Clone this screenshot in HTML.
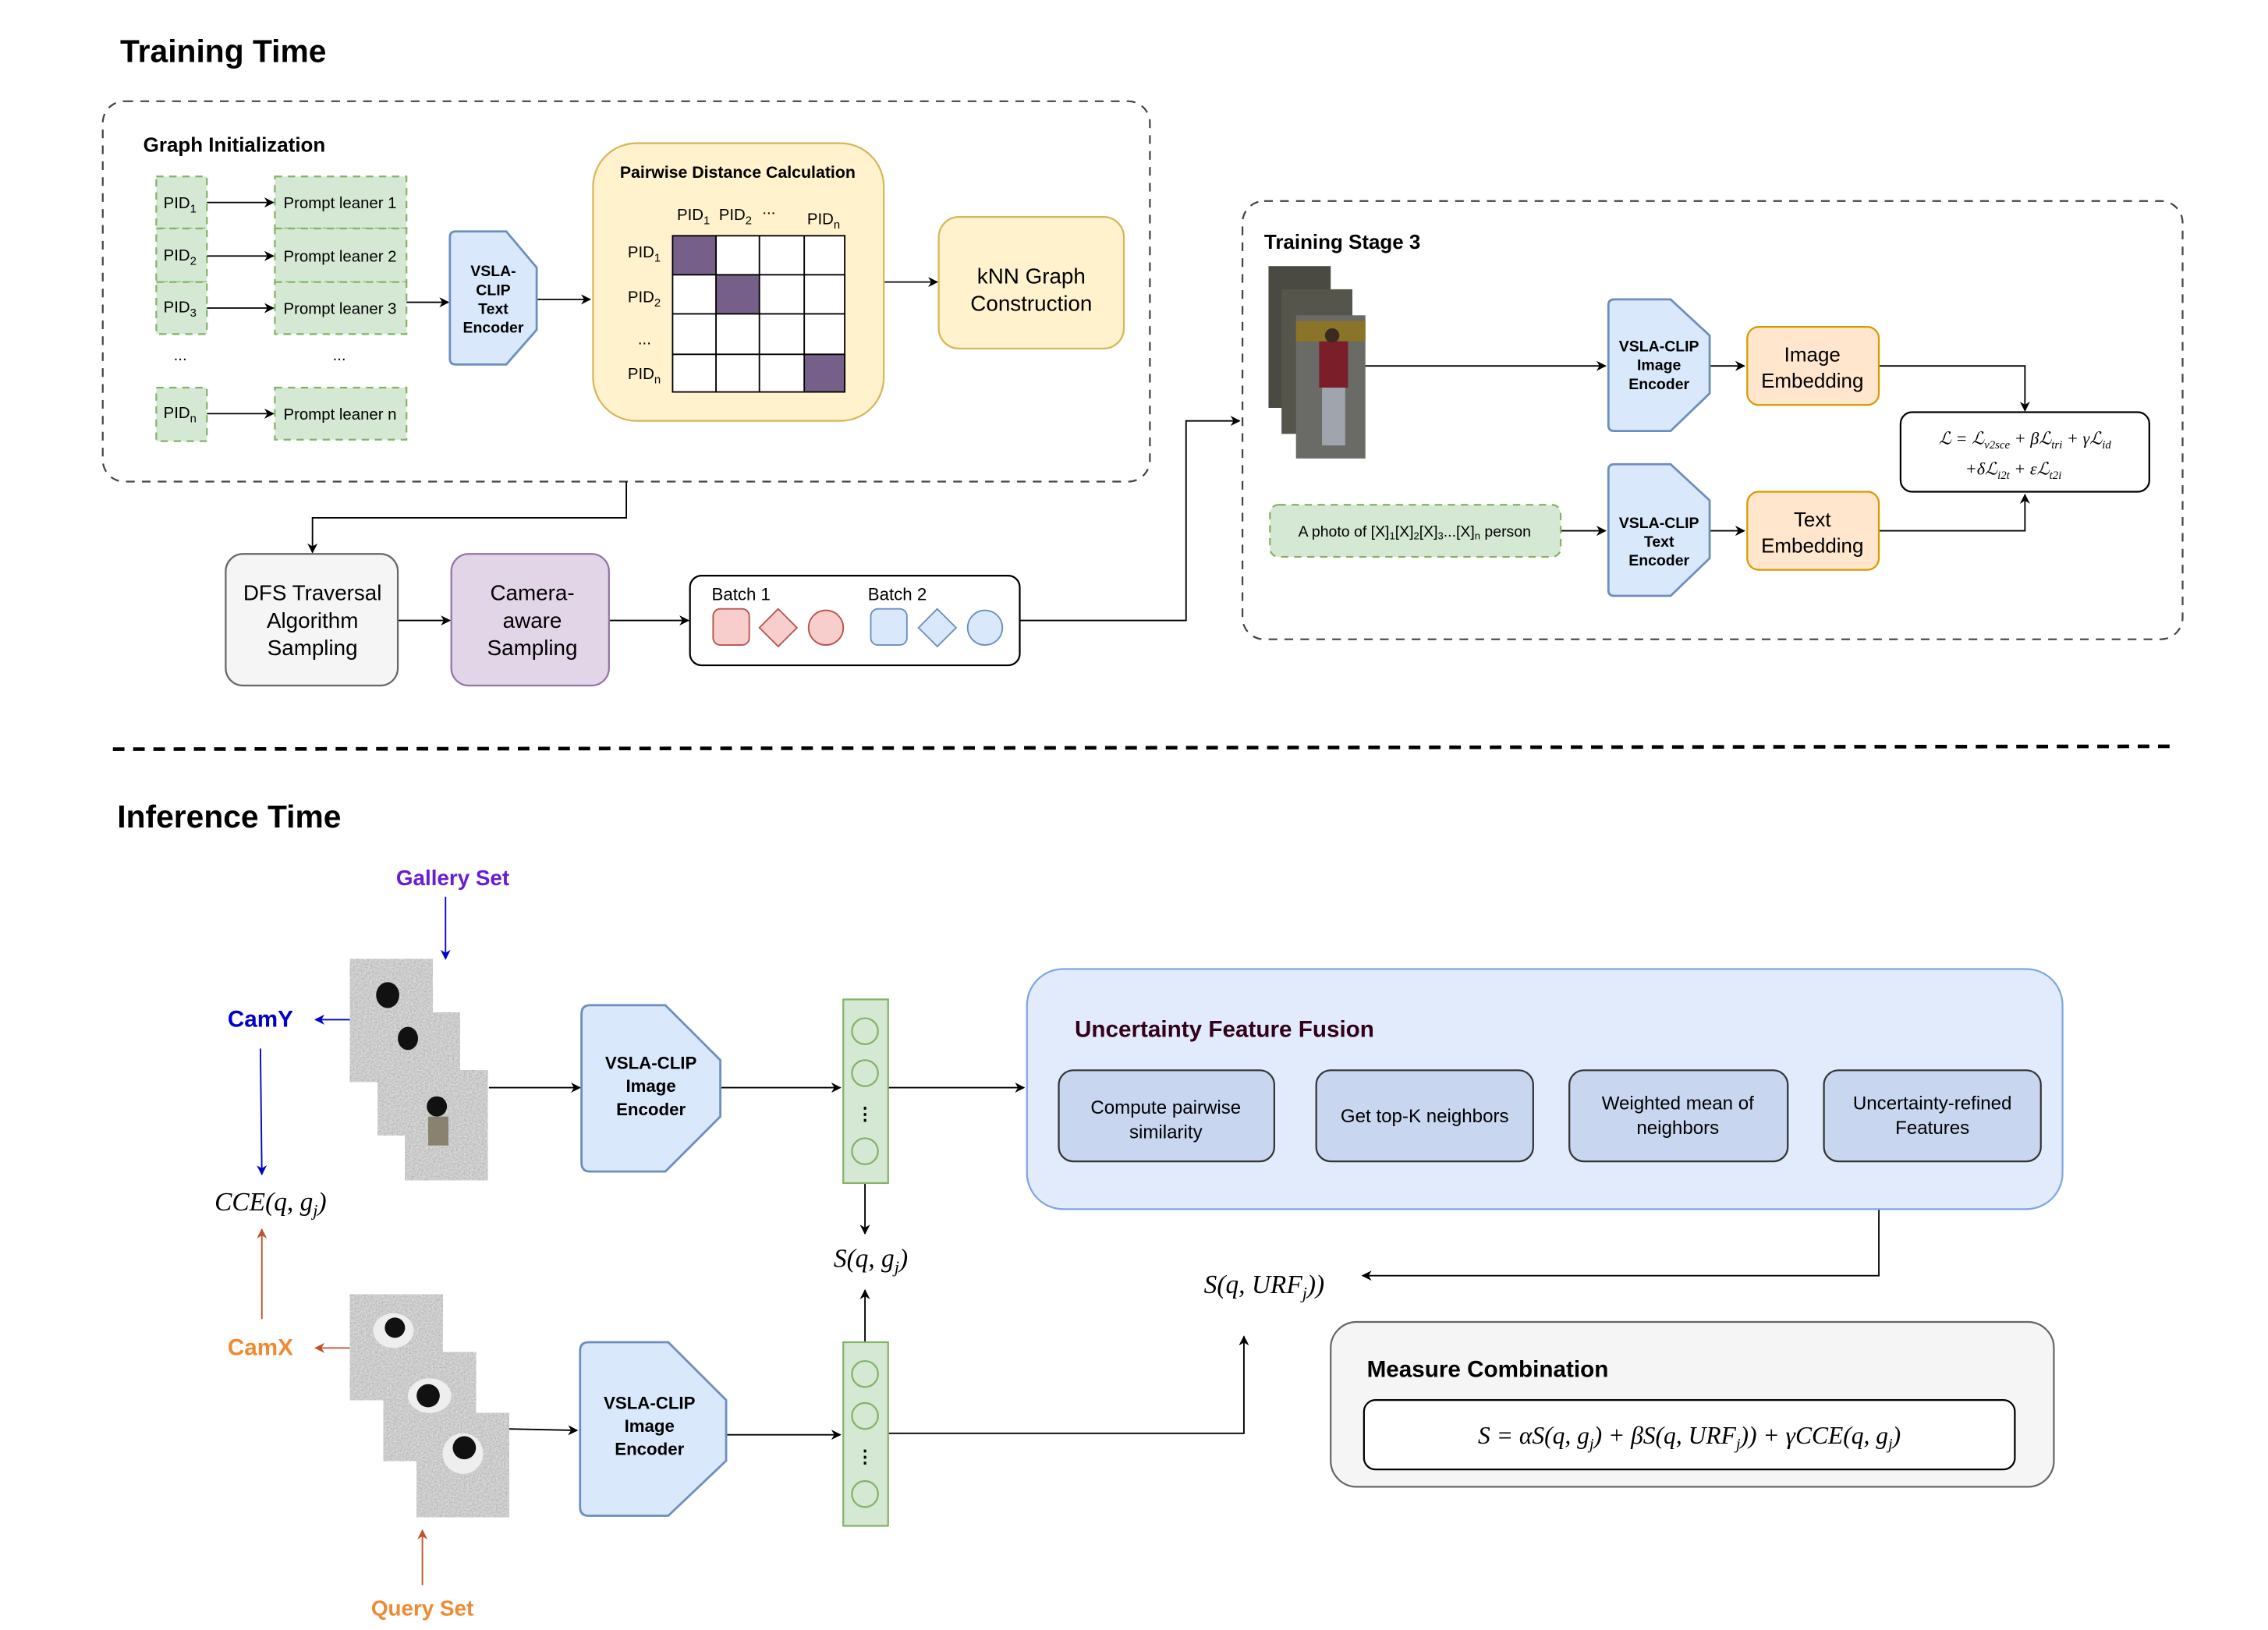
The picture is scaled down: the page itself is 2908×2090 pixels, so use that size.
<!DOCTYPE html>
<html><head><meta charset="utf-8"><style>
html,body{margin:0;padding:0;background:#fff}
svg{display:block}
text{font-family:"Liberation Sans",sans-serif}
.m{font-family:"Liberation Serif",serif;font-style:italic}
.b{font-weight:bold}
</style></head><body>
<svg width="2908" height="2090" viewBox="0 0 1568 1127" xmlns="http://www.w3.org/2000/svg">
<defs>
<marker id="a" viewBox="0 0 10 10" refX="9" refY="5" markerWidth="7" markerHeight="7" orient="auto"><path d="M0,0 L10,5 L0,10 L3,5 Z" fill="#000"/></marker>
<marker id="ab" viewBox="0 0 10 10" refX="9" refY="5" markerWidth="7" markerHeight="7" orient="auto"><path d="M0,0 L10,5 L0,10 L3,5 Z" fill="#0000cc"/></marker>
<marker id="ar" viewBox="0 0 10 10" refX="9" refY="5" markerWidth="7" markerHeight="7" orient="auto"><path d="M0,0 L10,5 L0,10 L3,5 Z" fill="#c0502a"/></marker>
<filter id="n" x="0" y="0" width="100%" height="100%"><feTurbulence type="fractalNoise" baseFrequency="0.9" numOctaves="2" result="t"/><feColorMatrix type="saturate" values="0"/><feComponentTransfer><feFuncR type="linear" slope="0.6" intercept="0.3"/><feFuncG type="linear" slope="0.6" intercept="0.3"/><feFuncB type="linear" slope="0.6" intercept="0.3"/><feFuncA type="linear" slope="0" intercept="1"/></feComponentTransfer></filter>
</defs>

<!-- Training -->
<text x="83" y="43" class="b" font-size="22">Training Time</text>
<rect x="71" y="70" width="724" height="263" rx="15" fill="none" stroke="#444" stroke-dasharray="6 5" stroke-width="1.2"/>
<text x="99" y="105" class="b" font-size="14">Graph Initialization</text>

<g fill="#d5e8d4" stroke="#82b366" stroke-dasharray="5 4" stroke-width="1.2">
<rect x="108" y="122" width="35" height="36"/><rect x="108" y="158" width="35" height="37"/><rect x="108" y="195" width="35" height="36"/><rect x="108" y="268" width="35" height="37"/>
<rect x="190" y="122" width="91" height="36"/><rect x="190" y="158" width="91" height="37"/><rect x="190" y="195" width="91" height="36"/><rect x="190" y="268" width="91" height="36"/>
</g>
<g font-size="11">
<text x="113" y="144">PID<tspan font-size="8" dy="3">1</tspan></text>
<text x="113" y="180">PID<tspan font-size="8" dy="3">2</tspan></text>
<text x="113" y="216">PID<tspan font-size="8" dy="3">3</tspan></text>
<text x="113" y="289">PID<tspan font-size="8" dy="3">n</tspan></text>
<text x="196" y="144">Prompt leaner 1</text>
<text x="196" y="181">Prompt leaner 2</text>
<text x="196" y="217">Prompt leaner 3</text>
<text x="196" y="290">Prompt leaner n</text>
<text x="120" y="249">...</text><text x="230" y="249">...</text>
</g>
<g stroke="#000" stroke-width="1" marker-end="url(#a)">
<line x1="143" y1="140" x2="189" y2="140"/><line x1="143" y1="177" x2="189" y2="177"/><line x1="143" y1="213" x2="189" y2="213"/><line x1="143" y1="286" x2="189" y2="286"/>
<line x1="281" y1="209" x2="310" y2="209"/><line x1="371" y1="207" x2="408" y2="207"/>
<line x1="611" y1="195" x2="648" y2="195"/>
<polyline points="433,333 433,358 216,358 216,382" fill="none"/>
<line x1="275" y1="429" x2="311" y2="429"/><line x1="421" y1="429" x2="476" y2="429"/>
<polyline points="705,429 820,429 820,291 857,291" fill="none"/>
</g>
<path d="M311,164 q0,-4 4,-4 L350,160 L371,185 L371,228 L350,252 L315,252 q-4,0 -4,-4 Z" fill="#dae8fc" stroke="#6c8ebf" stroke-width="1.5"/>
<g class="b" font-size="10.5" text-anchor="middle"><text x="341" y="191">VSLA-</text><text x="341" y="204">CLIP</text><text x="341" y="217">Text</text><text x="341" y="230">Encoder</text></g>

<rect x="410" y="99" width="201" height="192" rx="30" fill="#fff2cc" stroke="#d6b656" stroke-width="1.2"/>
<text x="510" y="123" class="b" font-size="11.5" text-anchor="middle">Pairwise Distance Calculation</text>
<rect x="465" y="163" width="119" height="108" fill="#fff"/>
<g fill="#76608a"><rect x="465" y="163" width="30" height="27"/><rect x="495" y="190" width="30" height="27"/><rect x="556" y="245" width="28" height="26"/></g>
<g stroke="#000" stroke-width="1" fill="none">
<rect x="465" y="163" width="119" height="108"/>
<line x1="495" y1="163" x2="495" y2="271"/><line x1="525" y1="163" x2="525" y2="271"/><line x1="556" y1="163" x2="556" y2="271"/>
<line x1="465" y1="190" x2="584" y2="190"/><line x1="465" y1="217" x2="584" y2="217"/><line x1="465" y1="245" x2="584" y2="245"/>
</g>
<g font-size="11">
<text x="468" y="152">PID<tspan font-size="8" dy="3">1</tspan></text>
<text x="497" y="152">PID<tspan font-size="8" dy="3">2</tspan></text>
<text x="527" y="148">...</text>
<text x="558" y="155">PID<tspan font-size="8" dy="3">n</tspan></text>
<text x="434" y="178">PID<tspan font-size="8" dy="3">1</tspan></text>
<text x="434" y="209">PID<tspan font-size="8" dy="3">2</tspan></text>
<text x="441" y="238">...</text>
<text x="434" y="262">PID<tspan font-size="8" dy="3">n</tspan></text>
</g>
<rect x="649" y="150" width="128" height="91" rx="14" fill="#fff2cc" stroke="#d6b656" stroke-width="1.2"/>
<g font-size="15" text-anchor="middle"><text x="713" y="196">kNN Graph</text><text x="713" y="215">Construction</text></g>

<rect x="156" y="383" width="119" height="91" rx="12" fill="#f5f5f5" stroke="#666" stroke-width="1.2"/>
<g font-size="15" text-anchor="middle"><text x="216" y="415">DFS Traversal</text><text x="216" y="434">Algorithm</text><text x="216" y="453">Sampling</text></g>
<rect x="312" y="383" width="109" height="91" rx="12" fill="#e1d5e7" stroke="#9673a6" stroke-width="1.2"/>
<g font-size="15" text-anchor="middle"><text x="368" y="415">Camera-</text><text x="368" y="434">aware</text><text x="368" y="453">Sampling</text></g>
<rect x="477" y="398" width="228" height="62" rx="8" fill="#fff" stroke="#000" stroke-width="1.2"/>
<text x="492" y="415" font-size="12">Batch 1</text><text x="600" y="415" font-size="12">Batch 2</text>
<g fill="#f8cecc" stroke="#b85450"><rect x="493" y="421" width="25" height="25" rx="5"/><path d="M538,421 L551,434 L538,447 L525,434 Z"/><circle cx="571" cy="434" r="12"/></g>
<g fill="#dae8fc" stroke="#6c8ebf"><rect x="602" y="421" width="25" height="25" rx="5"/><path d="M648,421 L661,434 L648,447 L635,434 Z"/><circle cx="681" cy="434" r="12"/></g>

<!-- Stage 3 -->
<rect x="859" y="139" width="650" height="303" rx="15" fill="none" stroke="#444" stroke-dasharray="6 5" stroke-width="1.2"/>
<text x="874" y="172" class="b" font-size="14">Training Stage 3</text>
<rect x="877" y="184" width="43" height="98" fill="#4a4a42"/>
<rect x="886" y="200" width="49" height="100" fill="#55554c"/>
<rect x="896" y="218" width="48" height="99" fill="#6a6a66"/>
<rect x="896" y="222" width="48" height="14" fill="#8a7428"/>
<rect x="912" y="236" width="20" height="32" fill="#7a1f2a"/>
<circle cx="921" cy="232" r="5" fill="#3a2a20"/>
<rect x="914" y="268" width="16" height="40" fill="#a0a4ac"/>
<g stroke="#000" stroke-width="1" marker-end="url(#a)" fill="none">
<line x1="944" y1="253" x2="1110" y2="253"/><line x1="1182" y1="253" x2="1206" y2="253"/>
<polyline points="1299,253 1400,253 1400,284"/>
<line x1="1079" y1="367" x2="1110" y2="367"/><line x1="1182" y1="367" x2="1206" y2="367"/>
<polyline points="1299,367 1400,367 1400,342"/>
</g>
<path d="M1112,211 q0,-4 4,-4 L1155,207 L1182,232 L1182,272 L1155,298 L1116,298 q-4,0 -4,-4 Z" fill="#dae8fc" stroke="#6c8ebf" stroke-width="1.5"/>
<g class="b" font-size="10.5" text-anchor="middle"><text x="1147" y="243">VSLA-CLIP</text><text x="1147" y="256">Image</text><text x="1147" y="269">Encoder</text></g>
<path d="M1112,325 q0,-4 4,-4 L1155,321 L1182,346 L1182,386 L1155,412 L1116,412 q-4,0 -4,-4 Z" fill="#dae8fc" stroke="#6c8ebf" stroke-width="1.5"/>
<g class="b" font-size="10.5" text-anchor="middle"><text x="1147" y="365">VSLA-CLIP</text><text x="1147" y="378">Text</text><text x="1147" y="391">Encoder</text></g>
<rect x="1208" y="226" width="91" height="54" rx="8" fill="#ffe6cc" stroke="#d79b00" stroke-width="1.2"/>
<g font-size="14" text-anchor="middle"><text x="1253" y="250">Image</text><text x="1253" y="268">Embedding</text></g>
<rect x="1208" y="340" width="91" height="54" rx="8" fill="#ffe6cc" stroke="#d79b00" stroke-width="1.2"/>
<g font-size="14" text-anchor="middle"><text x="1253" y="364">Text</text><text x="1253" y="382">Embedding</text></g>
<rect x="1314" y="285" width="172" height="55" rx="8" fill="#fff" stroke="#000" stroke-width="1.2"/>
<text x="1400" y="307" class="m" font-size="12" text-anchor="middle">ℒ = ℒ<tspan font-size="8" dy="3">v2sce</tspan><tspan dy="-3"> + βℒ</tspan><tspan font-size="8" dy="3">tri</tspan><tspan dy="-3"> + γℒ</tspan><tspan font-size="8" dy="3">id</tspan></text>
<text x="1392" y="328" class="m" font-size="12" text-anchor="middle">+δℒ<tspan font-size="8" dy="3">i2t</tspan><tspan dy="-3"> + εℒ</tspan><tspan font-size="8" dy="3">t2i</tspan></text>
<rect x="878" y="349" width="201" height="36" rx="6" fill="#d5e8d4" stroke="#82b366" stroke-dasharray="5 4" stroke-width="1.2"/>
<text x="978" y="371" font-size="10.5" text-anchor="middle">A photo of [X]<tspan font-size="7" dy="2">1</tspan><tspan dy="-2">[X]</tspan><tspan font-size="7" dy="2">2</tspan><tspan dy="-2">[X]</tspan><tspan font-size="7" dy="2">3</tspan><tspan dy="-2">...[X]</tspan><tspan font-size="7" dy="2">n</tspan><tspan dy="-2"> person</tspan></text>

<line x1="78" y1="518" x2="1500" y2="516" stroke="#000" stroke-width="2.5" stroke-dasharray="8 6"/>

<!-- Inference -->
<text x="81" y="572" class="b" font-size="22">Inference Time</text>
<text x="313" y="612" class="b" font-size="15" fill="#6a1bd6" text-anchor="middle">Gallery Set</text>
<g stroke="#0000cc" stroke-width="1" marker-end="url(#ab)" fill="none">
<line x1="308" y1="620" x2="308" y2="663"/><line x1="242" y1="705" x2="218" y2="705"/><line x1="180" y1="725" x2="181" y2="812"/>
</g>
<g filter="url(#n)"><rect x="242" y="663" width="57" height="85"/></g>
<g filter="url(#n)"><rect x="261" y="700" width="57" height="85"/></g>
<g filter="url(#n)"><rect x="280" y="740" width="57" height="76"/></g>
<ellipse cx="268" cy="688" rx="8" ry="9" fill="#111"/><ellipse cx="282" cy="718" rx="7" ry="8" fill="#111"/>
<ellipse cx="302" cy="765" rx="7" ry="7" fill="#111"/><rect x="296" y="772" width="14" height="20" fill="#8a8270"/>
<text x="180" y="710" font-family="Liberation Mono,monospace" class="b" font-size="16" fill="#0000cc" text-anchor="middle">CamY</text>
<text x="187" y="837" class="m" font-size="18" text-anchor="middle">CCE(q, g<tspan font-size="12" dy="4">j</tspan><tspan dy="-4">)</tspan></text>
<g stroke="#c0502a" stroke-width="1" marker-end="url(#ar)" fill="none">
<line x1="181" y1="912" x2="181" y2="850"/><line x1="242" y1="932" x2="218" y2="932"/><line x1="292" y1="1096" x2="292" y2="1058"/>
</g>
<text x="180" y="937" font-family="Liberation Mono,monospace" class="b" font-size="16" fill="#f08a30" text-anchor="middle">CamX</text>
<g filter="url(#n)"><rect x="242" y="895" width="64" height="73"/></g>
<g filter="url(#n)"><rect x="265" y="935" width="64" height="75"/></g>
<g filter="url(#n)"><rect x="288" y="977" width="64" height="72"/></g>
<ellipse cx="272" cy="920" rx="14" ry="12" fill="#eee"/><circle cx="273" cy="918" r="7" fill="#111"/>
<ellipse cx="297" cy="965" rx="15" ry="12" fill="#eee"/><circle cx="296" cy="965" r="8" fill="#111"/>
<ellipse cx="320" cy="1005" rx="14" ry="14" fill="#eee"/><circle cx="321" cy="1001" r="8" fill="#111"/>
<text x="292" y="1117" class="b" font-size="15" fill="#f08a30" text-anchor="middle">Query Set</text>

<g stroke="#000" stroke-width="1" marker-end="url(#a)" fill="none">
<line x1="338" y1="752" x2="401" y2="752"/><line x1="498" y1="752" x2="581" y2="752"/><line x1="614" y1="752" x2="708" y2="752"/>
<line x1="598" y1="818" x2="598" y2="853"/>
<line x1="352" y1="988" x2="399" y2="989"/><line x1="502" y1="992" x2="581" y2="992"/>
<line x1="598" y1="928" x2="598" y2="892"/>
<polyline points="614,991 860,991 860,924"/>
<polyline points="1299,836 1299,882 942,882"/>
<line x1="881" y1="772" x2="908" y2="772"/><line x1="1060" y1="772" x2="1084" y2="772"/><line x1="1236" y1="772" x2="1260" y2="772"/>
</g>
<path d="M402,701 q0,-6 6,-6 L460,695 L498,733 L498,772 L460,810 L408,810 q-6,0 -6,-6 Z" fill="#dae8fc" stroke="#6c8ebf" stroke-width="1.5"/>
<g class="b" font-size="12" text-anchor="middle"><text x="450" y="739">VSLA-CLIP</text><text x="450" y="755">Image</text><text x="450" y="771">Encoder</text></g>
<path d="M401,934 q0,-6 6,-6 L462,928 L502,968 L502,1010 L462,1048 L407,1048 q-6,0 -6,-6 Z" fill="#dae8fc" stroke="#6c8ebf" stroke-width="1.5"/>
<g class="b" font-size="12" text-anchor="middle"><text x="449" y="974">VSLA-CLIP</text><text x="449" y="990">Image</text><text x="449" y="1006">Encoder</text></g>
<g fill="#d5e8d4" stroke="#82b366" stroke-width="1.2">
<rect x="583" y="691" width="31" height="127"/><circle cx="598" cy="713" r="9"/><circle cx="598" cy="742" r="9"/><circle cx="598" cy="796" r="9"/>
<rect x="583" y="928" width="31" height="127"/><circle cx="598" cy="950" r="9"/><circle cx="598" cy="979" r="9"/><circle cx="598" cy="1033" r="9"/>
</g>
<text x="598" y="774" class="b" font-size="12" text-anchor="middle">⋮</text>
<text x="598" y="1011" class="b" font-size="12" text-anchor="middle">⋮</text>
<text x="602" y="876" class="m" font-size="18" text-anchor="middle">S(q, g<tspan font-size="12" dy="4">j</tspan><tspan dy="-4">)</tspan></text>

<rect x="710" y="670" width="716" height="166" rx="25" fill="#e2ebfb" stroke="#7ea6e0" stroke-width="1.2"/>
<text x="743" y="717" class="b" font-size="16" fill="#33001a">Uncertainty Feature Fusion</text>
<g fill="#c9d6f0" stroke="#333" stroke-width="1.2">
<rect x="732" y="740" width="149" height="63" rx="10"/><rect x="910" y="740" width="150" height="63" rx="10"/><rect x="1085" y="740" width="151" height="63" rx="10"/><rect x="1261" y="740" width="150" height="63" rx="10"/>
</g>
<g font-size="13" text-anchor="middle">
<text x="806" y="770">Compute pairwise</text><text x="806" y="787">similarity</text>
<text x="985" y="776">Get top-K neighbors</text>
<text x="1160" y="767">Weighted mean of</text><text x="1160" y="784">neighbors</text>
<text x="1336" y="767">Uncertainty-refined</text><text x="1336" y="784">Features</text>
</g>
<text x="874" y="894" class="m" font-size="18" text-anchor="middle">S(q, URF<tspan font-size="12" dy="4">j</tspan><tspan dy="-4">))</tspan></text>

<rect x="920" y="914" width="500" height="114" rx="18" fill="#f5f5f5" stroke="#666" stroke-width="1.2"/>
<text x="945" y="952" class="b" font-size="16">Measure Combination</text>
<rect x="943" y="968" width="450" height="48" rx="8" fill="#fff" stroke="#000" stroke-width="1.2"/>
<text x="1168" y="998" class="m" font-size="17" text-anchor="middle">S = αS(q, g<tspan font-size="11" dy="4">j</tspan><tspan dy="-4">) + βS(q, URF</tspan><tspan font-size="11" dy="4">j</tspan><tspan dy="-4">)) + γCCE(q, g</tspan><tspan font-size="11" dy="4">j</tspan><tspan dy="-4">)</tspan></text>
</svg>
</body></html>
